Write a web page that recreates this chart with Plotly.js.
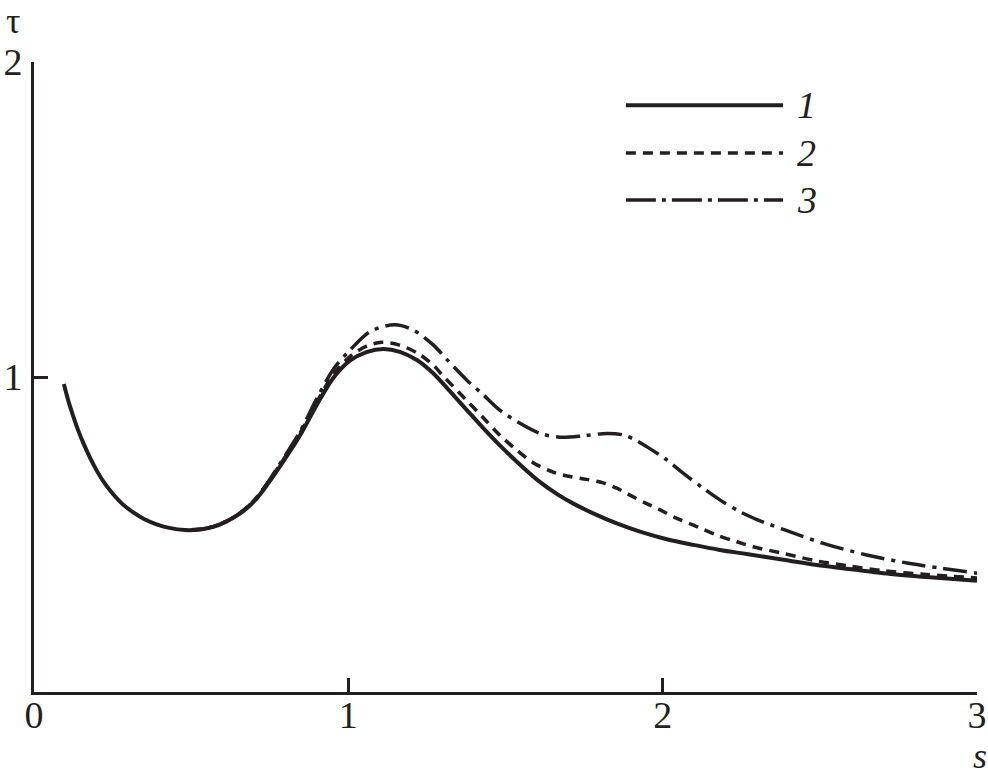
<!DOCTYPE html>
<html>
<head>
<meta charset="utf-8">
<script src="https://cdn.plot.ly/plotly-3.0.1.min.js"></script>
<style>html,body{margin:0;padding:0;background:#fff;}#chart{width:988px;height:778px;}</style>
</head>
<body>
<div id="chart"></div>
<script>
// Curve 1 (solid)
const s1 = [0.095,0.11,0.125,0.14,0.157,0.18,0.2,0.225,0.25,0.28,0.316,0.35,0.39,0.43,0.48,0.53,0.57,0.61,0.655,0.70,0.74,0.8,0.846,0.9,0.952,1.005,1.058,1.111,1.164,1.218,1.27,1.323,1.377,1.43,1.482,1.536,1.604,1.663,1.716,1.779,1.854,1.928,2.013,2.098,2.182,2.267,2.384,2.49,2.6,2.702,2.85,3.0];
const t1 = [0.978,0.922,0.875,0.832,0.790,0.740,0.702,0.662,0.630,0.598,0.570,0.549,0.532,0.521,0.514,0.516,0.524,0.540,0.566,0.605,0.655,0.742,0.814,0.912,0.997,1.052,1.079,1.089,1.08,1.054,1.012,0.955,0.895,0.837,0.783,0.731,0.671,0.629,0.598,0.567,0.535,0.509,0.485,0.467,0.451,0.438,0.42,0.403,0.39,0.377,0.364,0.353];
// Curve 2 (dashed)
const s2 = [0.5,0.53,0.57,0.61,0.655,0.70,0.74,0.8,0.846,0.9,0.952,1.005,1.058,1.106,1.16,1.218,1.27,1.3,1.377,1.43,1.482,1.536,1.588,1.652,1.705,1.758,1.811,1.854,1.896,1.949,1.992,2.045,2.098,2.172,2.236,2.288,2.384,2.49,2.596,2.702,2.84,3.0];
const t2 = [0.515,0.517,0.525,0.541,0.568,0.608,0.659,0.748,0.821,0.921,1.008,1.065,1.098,1.11,1.102,1.077,1.038,1.005,0.925,0.87,0.815,0.768,0.728,0.698,0.684,0.675,0.664,0.647,0.625,0.598,0.578,0.551,0.53,0.498,0.477,0.461,0.44,0.416,0.4,0.385,0.373,0.362];
// Curve 3 (dash-dot)
const s3 = [0.5,0.53,0.57,0.61,0.655,0.70,0.74,0.8,0.846,0.9,0.952,1.005,1.069,1.148,1.207,1.27,1.313,1.377,1.43,1.482,1.546,1.61,1.673,1.748,1.822,1.875,1.917,1.949,2.013,2.066,2.129,2.182,2.246,2.304,2.384,2.511,2.649,2.787,3.0];
const t3 = [0.515,0.517,0.525,0.541,0.568,0.608,0.660,0.752,0.826,0.932,1.024,1.085,1.144,1.166,1.149,1.102,1.056,0.99,0.943,0.895,0.853,0.821,0.809,0.813,0.821,0.816,0.798,0.779,0.737,0.694,0.647,0.61,0.572,0.546,0.516,0.472,0.435,0.408,0.377];
// Tick labels
const xTicks = [0,1,2,3];
const xTickText = ['0','1','2','3'];
const yTicks = [1,2];
const yTickText = ['1','2'];
const legendNames = ['1','2','3'];

const ink = '#231f20';
const serif = '"Liberation Serif", "Times New Roman", Times, serif';

const traces = [
  {x:s1, y:t1, mode:'lines', line:{color:ink, width:4, shape:'spline', smoothing:0.9}, showlegend:false},
  {x:s2, y:t2, mode:'lines', line:{color:ink, width:3.5, dash:'10px,7px', shape:'spline', smoothing:0.9}, showlegend:false},
  {x:s3, y:t3, mode:'lines', line:{color:ink, width:3.5, dash:'24px,7px,4px,7px', shape:'spline', smoothing:0.9}, showlegend:false}
];

// legend samples (decoration)
const legY = [1.863, 1.711, 1.562];
const legDash = ['solid','10px,7px','30px,6px,4px,6px'];
const legW = [4,3.5,3.5];
const shapes = legY.map((y,i)=>({type:'line', xref:'x', yref:'y', x0:1.883, x1:2.383, y0:y, y1:y, line:{color:ink, width:legW[i], dash:legDash[i]}}));
const annotations = legY.map((y,i)=>({xref:'x', yref:'y', x:2.42, y:y, text:legendNames[i], showarrow:false, xanchor:'left', yanchor:'middle', font:{family:serif, size:38, color:ink, style:'italic'}}));
annotations.push({xref:'paper', yref:'paper', x:-0.022, y:1.03, text:'τ', showarrow:false, xanchor:'center', yanchor:'bottom', font:{family:serif, size:36, color:ink}});
annotations.push({xref:'paper', yref:'paper', x:1.003, y:-0.102, text:'s', showarrow:false, xanchor:'center', yanchor:'middle', font:{family:serif, size:36, color:ink, style:'italic'}});

const layout = {
  width:988, height:778,
  margin:{l:34, r:11, t:62, b:86},
  paper_bgcolor:'#fff', plot_bgcolor:'#fff',
  showlegend:false,
  xaxis:{range:[0,3], tickvals:xTicks, ticktext:xTickText, ticks:'inside', ticklen:14, tickwidth:3, tickcolor:ink,
         showline:true, linewidth:3, linecolor:ink, showgrid:false, zeroline:false, ticklabelstandoff:-13,
         tickfont:{family:serif, size:38, color:ink}},
  yaxis:{range:[0,2], tickvals:yTicks, ticktext:yTickText, ticks:'inside', ticklen:14, tickwidth:3, tickcolor:ink,
         showline:true, linewidth:3, linecolor:ink, showgrid:false, zeroline:false, ticklabelstandoff:1,
         tickfont:{family:serif, size:38, color:ink}},
  shapes:shapes,
  annotations:annotations
};
Plotly.newPlot('chart', traces, layout, {staticPlot:true, displayModeBar:false});
</script>
</body>
</html>
